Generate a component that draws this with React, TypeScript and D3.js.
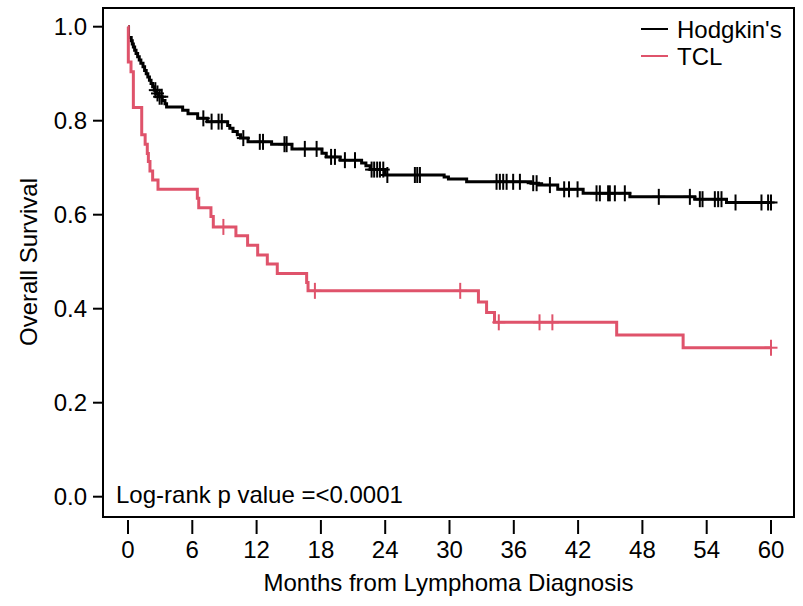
import React from "react";
import * as d3 from "d3";

// Kaplan-Meier steps: time (months) at which the curve drops, and the level after the drop
const hodgkinTimes = [
  0.05, 0.3, 0.4, 0.5, 0.62, 0.75, 0.9, 1.05, 1.2, 1.4, 1.55, 1.7, 1.85, 2.0,
  2.15, 2.3, 2.45, 2.6, 2.85, 3.2, 3.45, 3.6, 5.1, 5.6, 6.5, 7.4, 9.3, 9.5,
  9.8, 10.2, 10.5, 11.2, 13.4, 15.3, 18.1, 18.5, 19.8, 21.8, 22.2, 22.6, 24.0,
  29.5, 29.9, 31.6, 37.6, 38.3, 40.1, 42.47, 46.83, 52.89, 55.85,
];
const hodgkinSurv = [
  0.977, 0.97, 0.963, 0.957, 0.95, 0.943, 0.936, 0.929, 0.922, 0.915, 0.907,
  0.9, 0.893, 0.886, 0.879, 0.872, 0.865, 0.858, 0.851, 0.843, 0.836, 0.829,
  0.822, 0.815, 0.805, 0.798, 0.79, 0.784, 0.777, 0.77, 0.763, 0.755, 0.75,
  0.74, 0.731, 0.723, 0.716, 0.71, 0.704, 0.696, 0.6845, 0.68, 0.676, 0.67,
  0.667, 0.663, 0.654, 0.6455, 0.638, 0.633, 0.626,
];
const hodgkinCensor = [
  2.55, 2.75, 2.95, 3.15, 7.03, 7.8, 8.45, 8.75, 10.76, 12.3, 12.6, 14.6, 14.8,
  16.5, 17.6, 18.95, 19.31, 20.24, 21.18, 22.73, 22.97, 23.25, 23.51, 23.82,
  24.2, 26.77, 26.99, 27.24, 34.39, 34.7, 35.01, 35.33, 35.94, 36.57, 37.81,
  38.13, 39.37, 40.7, 41.15, 41.95, 43.72, 44.03, 44.8, 44.96, 45.43, 46.36,
  49.53, 52.43, 53.36, 53.61, 54.76, 55.07, 55.38, 56.69, 59.11, 59.73, 60.0,
];

const tclTimes = [
  0.03, 0.28, 0.5, 1.28, 1.6, 1.8, 1.9, 2.05, 2.3, 2.8, 6.47, 6.6, 7.74, 7.96,
  10.07, 11.16, 12.1, 13.0, 13.93, 16.67, 16.8, 32.7, 33.46, 34.2, 45.6, 51.8,
];
const tclSurv = [
  0.925, 0.904, 0.828, 0.77, 0.75, 0.73, 0.713, 0.693, 0.674, 0.654, 0.635,
  0.615, 0.596, 0.574, 0.555, 0.535, 0.514, 0.495, 0.475, 0.456, 0.438, 0.414,
  0.392, 0.371, 0.344, 0.317,
];
const tclCensor = [8.9, 17.44, 31.0, 34.6, 38.4, 39.6, 60.0];

const xTicks = [0, 6, 12, 18, 24, 30, 36, 42, 48, 54, 60];
const yTicks = [0, 0.2, 0.4, 0.6, 0.8, 1.0];

const seriesNames = ["Hodgkin's", "TCL"];
const seriesColors = ["#000000", "#DF536B"];
const pValueText = "Log-rank p value =<0.0001";
const xTitle = "Months from Lymphoma Diagnosis";
const yTitle = "Overall Survival";

const W = 803;
const H = 606;
const box = { left: 103, top: 8, right: 794, bottom: 517 };
const font = "'Liberation Sans', Arial, Helvetica, sans-serif";
const fontSize = 24;

const x = d3.scaleLinear().domain([0, 60]).range([128, 771]);
const y = d3.scaleLinear().domain([0, 1]).range([496.7, 26.7]);

type Pt = [number, number];

const buildPoints = (times: number[], surv: number[], end: number): Pt[] => {
  const pts: Pt[] = [[0, 1]];
  times.forEach((t, i) => pts.push([t, surv[i]]));
  pts.push([end, surv[surv.length - 1]]);
  return pts;
};

const levelAt = (times: number[], surv: number[], t: number) => {
  let s = 1;
  times.forEach((tt, i) => {
    if (tt <= t) s = surv[i];
  });
  return s;
};

const stepLine = d3
  .line<Pt>()
  .x((d) => x(d[0]))
  .y((d) => y(d[1]))
  .curve(d3.curveStepAfter);

const Curve = ({
  times,
  surv,
  censor,
  color,
}: {
  times: number[];
  surv: number[];
  censor: number[];
  color: string;
}) => {
  const end = d3.max(censor) as number;
  const pts = buildPoints(times, surv, end);
  return (
    <g>
      <path d={stepLine(pts) || ""} fill="none" stroke={color} strokeWidth={3} />
      {censor.map((c, i) => {
        const cx = x(c);
        const cy = y(levelAt(times, surv, c));
        return (
          <g key={i} stroke={color} strokeWidth={2}>
            <line x1={cx} x2={cx} y1={cy - 8} y2={cy + 8} />
            <line x1={cx - 6.5} x2={cx + 6.5} y1={cy} y2={cy} />
          </g>
        );
      })}
    </g>
  );
};

const App = () => {
  return (
    <svg
      width={W}
      height={H}
      style={{ position: "absolute", left: 0, top: 0, background: "#fff" }}
      fontFamily={font}
      fontSize={fontSize}
    >
      <rect x={0} y={0} width={W} height={H} fill="#fff" />
      <Curve
        times={hodgkinTimes}
        surv={hodgkinSurv}
        censor={hodgkinCensor}
        color={seriesColors[0]}
      />
      <Curve
        times={tclTimes}
        surv={tclSurv}
        censor={tclCensor}
        color={seriesColors[1]}
      />
      <rect
        x={box.left}
        y={box.top}
        width={box.right - box.left}
        height={box.bottom - box.top}
        fill="none"
        stroke="#000"
        strokeWidth={2}
      />
      {/* y axis */}
      {yTicks.map((t) => (
        <g key={t}>
          <line x1={93} x2={box.left} y1={y(t)} y2={y(t)} stroke="#000" strokeWidth={2} />
          <text x={87} y={y(t) + 8.5} textAnchor="end">
            {d3.format(".1f")(t)}
          </text>
        </g>
      ))}
      {/* x axis */}
      {xTicks.map((t) => (
        <g key={t}>
          <line x1={x(t)} x2={x(t)} y1={520} y2={534} stroke="#000" strokeWidth={2} />
          <text x={x(t)} y={558} textAnchor="middle">
            {t}
          </text>
        </g>
      ))}
      <text x={(box.left + box.right) / 2 + 0} y={591} textAnchor="middle">
        {xTitle}
      </text>
      <text transform={`translate(37, 262) rotate(-90)`} textAnchor="middle">
        {yTitle}
      </text>
      <text x={116} y={503}>
        {pValueText}
      </text>
      {/* legend */}
      {seriesNames.map((name, i) => (
        <g key={name}>
          <line
            x1={641}
            x2={668}
            y1={29 + i * 27}
            y2={29 + i * 27}
            stroke={seriesColors[i]}
            strokeWidth={2}
          />
          <text x={677} y={29 + i * 27 + 8.5}>
            {name}
          </text>
        </g>
      ))}
    </svg>
  );
};

export default App;
